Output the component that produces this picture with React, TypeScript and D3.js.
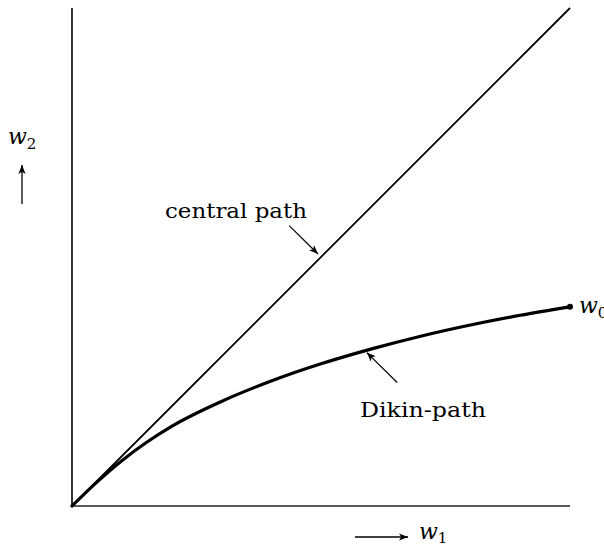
import React from "react";
import * as d3 from "d3";

// Unit square in (w1, w2) space
const W1_RANGE = [0, 1];
const W2_RANGE = [0, 1];

// Central path: the diagonal w1 = w2
const centralW1 = [0, 1];
const centralW2 = [0, 1];

// Dikin path from the origin to w0
const dikinW1 = [0, 0.05, 0.1, 0.15, 0.2, 0.3, 0.4, 0.5, 0.6, 0.7, 0.8, 0.9, 1.0];
const dikinW2 = [0, 0.048, 0.091, 0.128, 0.16, 0.21, 0.251, 0.2855, 0.315, 0.341, 0.3635, 0.383, 0.4];

// Annotation arrows (tail -> head) in data units
const centralArrow = [[0.436, 0.563], [0.494, 0.506]];
const dikinArrow = [[0.653, 0.248], [0.592, 0.308]];

const FONT = "'DejaVu Serif', 'Liberation Serif', serif";

export default function App() {
  const width = 604;
  const height = 546;
  const x = d3.scaleLinear().domain(W1_RANGE).range([72, 570]);
  const y = d3.scaleLinear().domain(W2_RANGE).range([506, 8]);

  const line = d3
    .line<number>()
    .x((_, i) => x(dikinW1[i]))
    .y((d) => y(d))
    .curve(d3.curveMonotoneX);

  const central = d3
    .line<number>()
    .x((_, i) => x(centralW1[i]))
    .y((d) => y(d));

  const w0x = x(dikinW1[dikinW1.length - 1]);
  const w0y = y(dikinW2[dikinW2.length - 1]);

  return (
    <svg
      width={width}
      height={height}
      style={{ position: "absolute", left: 0, top: 0, background: "#fff" }}
    >
      <defs>
        <marker
          id="head"
          viewBox="0 0 10 10"
          refX="10"
          refY="5"
          markerWidth="9"
          markerHeight="9"
          markerUnits="userSpaceOnUse"
          orient="auto"
        >
          <path d="M0,1 L10,5 L0,9 L2.5,5 Z" fill="#000" />
        </marker>
      </defs>

      {/* axes */}
      <line x1={x(0)} y1={y(0)} x2={x(1)} y2={y(0)} stroke="#222" strokeWidth={1.6} />
      <line x1={x(0)} y1={y(0)} x2={x(0)} y2={y(1)} stroke="#000" strokeWidth={1.6} />

      {/* central path */}
      <path d={central(centralW2) || ""} fill="none" stroke="#000" strokeWidth={1.8} />

      {/* Dikin path */}
      <path d={line(dikinW2) || ""} fill="none" stroke="#000" strokeWidth={3.2} strokeLinecap="round" />
      <circle cx={w0x} cy={w0y} r={3} fill="#000" />

      {/* annotation arrows */}
      <line
        x1={x(centralArrow[0][0])}
        y1={y(centralArrow[0][1])}
        x2={x(centralArrow[1][0])}
        y2={y(centralArrow[1][1])}
        stroke="#000"
        strokeWidth={1.2}
        markerEnd="url(#head)"
      />
      <line
        x1={x(dikinArrow[0][0])}
        y1={y(dikinArrow[0][1])}
        x2={x(dikinArrow[1][0])}
        y2={y(dikinArrow[1][1])}
        stroke="#000"
        strokeWidth={1.2}
        markerEnd="url(#head)"
      />

      {/* axis direction arrows */}
      <line x1={22} y1={204} x2={22} y2={165} stroke="#000" strokeWidth={1.3} markerEnd="url(#head)" />
      <line x1={355} y1={537} x2={408} y2={537} stroke="#000" strokeWidth={1.3} markerEnd="url(#head)" />

      {/* labels */}
      <text x={165} y={218} fontFamily={FONT} fontSize={20} textLength={142} lengthAdjust="spacingAndGlyphs">
        central path
      </text>
      <text x={360} y={417} fontFamily={FONT} fontSize={20} textLength={126} lengthAdjust="spacingAndGlyphs">
        Dikin-path
      </text>

      <text x={8} y={144} fontFamily={FONT} fontSize={22} fontStyle="italic">
        w<tspan fontSize={15} fontStyle="normal" dy={5}>2</tspan>
      </text>
      <text x={419} y={539} fontFamily={FONT} fontSize={22} fontStyle="italic">
        w<tspan fontSize={15} fontStyle="normal" dy={4}>1</tspan>
      </text>
      <text x={w0x + 9} y={w0y + 6} fontFamily={FONT} fontSize={22} fontStyle="italic">
        w<tspan fontSize={15} fontStyle="normal" dy={5}>0</tspan>
      </text>
    </svg>
  );
}
